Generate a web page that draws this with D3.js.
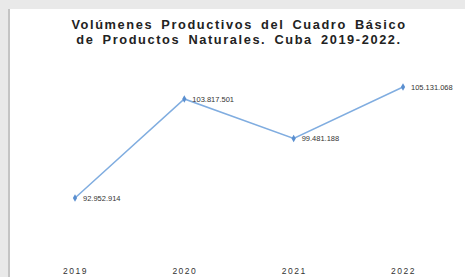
<!DOCTYPE html>
<html><head><meta charset="utf-8">
<script src="https://cdn.jsdelivr.net/npm/d3@7"></script>
<style>body{margin:0;background:#e4e4e4;}svg{display:block;}</style>
</head><body>
<script>
const years = ["2019","2020","2021","2022"];
const values = [92952914, 103817501, 99481188, 105131068];
const valueLabels = ["92.952.914","103.817.501","99.481.188","105.131.068"];
const titleLines = ["Volúmenes Productivos del Cuadro Básico","de Productos Naturales. Cuba 2019-2022."];

const W=465,H=277;
const svg=d3.select("body").append("svg").attr("width",W).attr("height",H);
svg.append("rect").attr("width",W).attr("height",H).attr("fill","#e9e9e9");
svg.append("rect").attr("x",8).attr("y",9).attr("width",2).attr("height",H).attr("fill","#c4c4c4");
svg.append("rect").attr("x",10).attr("y",9).attr("width",W-10).attr("height",H).attr("fill","#ffffff");

const x=d3.scalePoint().domain(years).range([75,403]);
const y=d3.scaleLinear().domain([92952914,105131068]).range([198,87]);

svg.append("g").selectAll("text").data(titleLines).join("text")
  .attr("x",239).attr("y",(d,i)=>29+i*15).attr("text-anchor","middle")
  .attr("font-family","Liberation Sans, Arial, sans-serif").attr("font-weight","bold")
  .attr("font-size",12.8).attr("letter-spacing",1.6).attr("word-spacing",3).attr("fill","#222").text(d=>d);

const axis=d3.axisBottom(x).tickSize(0).tickPadding(0);
const ag=svg.append("g").attr("transform","translate(0,268)").call(axis);
ag.select(".domain").remove();
ag.selectAll("text").attr("font-family","Liberation Sans, Arial, sans-serif")
  .attr("font-size",8.5).attr("letter-spacing",1.5).attr("fill","#333");

const data=years.map((d,i)=>({year:d,v:values[i],lab:valueLabels[i]}));
svg.append("path").datum(data)
  .attr("d",d3.line().x(d=>x(d.year)).y(d=>y(d.v)))
  .attr("fill","none").attr("stroke","#80ade0").attr("stroke-width",1.5);
svg.append("g").selectAll("path").data(data).join("path")
  .attr("d",d3.symbol(d3.symbolDiamond,16)())
  .attr("transform",d=>`translate(${x(d.year)},${y(d.v)})`)
  .attr("fill","#5a8fd0");
svg.append("g").selectAll("text").data(data).join("text")
  .attr("x",d=>x(d.year)+8).attr("y",d=>y(d.v)+3)
  .attr("font-family","Liberation Sans, Arial, sans-serif").attr("font-size",7.5)
  .attr("fill","#333").text(d=>d.lab);
</script>
</body></html>
